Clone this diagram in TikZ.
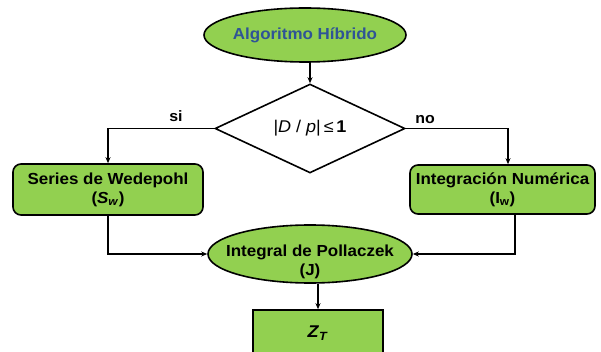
\documentclass[tikz,border=0pt]{standalone}
\usepackage{fontspec}
\setmainfont{Liberation Sans}
\newfontfamily\lab[FakeStretch=1.06]{Liberation Sans}
\usetikzlibrary{shapes.geometric,arrows.meta}
\definecolor{gfill}{RGB}{146,208,80}
\definecolor{tblue}{RGB}{47,84,150}
\begin{document}
\begin{tikzpicture}[x=1pt,y=-1pt,
  txt/.style={font=\lab\bfseries\fontsize{16}{19}\selectfont,align=center},
  base/.style={draw=black,line width=1.6pt,fill=gfill,inner sep=0pt,txt},
  ellnode/.style={base,ellipse},
  boxnode/.style={base,rectangle,rounded corners=8pt},
  sqnode/.style={base,rectangle},
  decision/.style={draw=black,line width=1.6pt,fill=white,diamond,inner sep=0pt,
    font=\lab\fontsize{17}{18}\selectfont},
  conn/.style={draw=black,line width=1.6pt,-{Stealth[length=6pt,width=5pt]}},
  lbl/.style={font=\lab\bfseries\fontsize{15}{18}\selectfont,inner sep=0pt}]
\useasboundingbox (0,0) rectangle (601,352);
\clip (0,0) rectangle (601,352);
\fill[white] (0,0) rectangle (601,352);

\node[ellnode,minimum width=202pt,minimum height=54pt,inner xsep=-1pt,text=tblue] (alg) at (305,35) {Algoritmo Híbrido};
\node[decision,minimum width=190pt,minimum height=77pt] (dia) at (310,128.5) {|\textit{D} / \textit{p}|\,≤\,\textbf{1}};
\node[boxnode,minimum width=190pt,minimum height=51pt] (sw) at (108,189.5) {Series de Wedepohl\\(\textit{S}\textsubscript{\textit{w}})};
\node[boxnode,minimum width=185pt,minimum height=49pt] (iw) at (502.5,189.5) {Integración Numérica\\(I\textsubscript{w})};
\node[ellnode,minimum width=204pt,minimum height=58pt,
  label={[txt,inner sep=0pt,yshift=-8pt]center:Integral de Pollaczek\\(J)}] (pj) at (310,254) {};
\node[sqnode,minimum width=130pt,minimum height=46pt,font=\lab\bfseries\fontsize{17}{18}\selectfont] (zt) at (318,333) {\textit{Z}\textsubscript{\textit{T}}};

\node[lbl] (si) at (176,116) {si};
\node[lbl] (no) at (425,120) {no};

\draw[conn] (dia.north |- alg.south) -- (dia.north);
\draw[conn] (dia.west) -| (sw.north);
\draw[conn] (dia.east) -| ([xshift=5.5pt]iw.north);
\draw[conn] (sw.south) |- (pj.west);
\draw[conn] ([xshift=12.5pt]iw.south) |- (pj.east);
\draw[conn] (zt.north |- pj.south) -- (zt.north);
\end{tikzpicture}
\end{document}
